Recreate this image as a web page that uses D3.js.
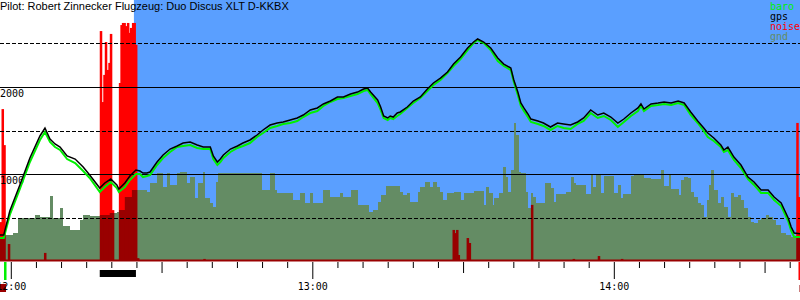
<!DOCTYPE html>
<html><head><meta charset="utf-8">
<script src="https://cdn.jsdelivr.net/npm/d3@7"></script>
<style>html,body{margin:0;padding:0;background:#fff;overflow:hidden}svg{display:block}</style>
</head><body>
<svg id="c" width="800" height="300"></svg>
<script>
// ---------- data ----------
const title = "Pilot: Robert Zinnecker Flugzeug: Duo Discus XLT D-KKBX";
const legendLabels = ["baro", "gps", "noise", "gnd"];
const altTicks = [500, 1000, 1500, 2000, 2500];
const altLabels = [1000, 2000];
const hourLabels = {0: "12:00", 60: "13:00", 120: "14:00"};   // minutes after 12:00

// sample times (minutes after 12:00)
const sampleTime = [-2.2,-1.4,-0.2,1.8,3.8,5.8,6.8,7.8,8.8,9.8,
  11.2,12.8,14.4,15.7,17.7,18.7,19.9,21.1,21.5,22.7,
  23.7,24.9,25.7,26.3,27.1,27.7,29.1,30.3,31.7,33.1,
  34.3,35.7,37.1,38.3,39.7,40.3,41.1,41.7,42.3,43.7,
  45.1,46.2,47.6,49.0,50.2,51.6,53.0,54.2,55.6,57.0,
  58.2,59.6,61.0,62.2,63.6,65.0,66.2,67.6,69.0,70.2,
  71.0,71.6,73.0,73.6,74.2,75.0,75.5,76.1,76.9,77.5,
  78.9,80.1,81.5,82.9,84.1,85.5,86.9,88.1,89.5,90.9,
  92.1,92.9,94.1,95.5,96.9,98.1,99.5,100.1,100.9,101.5,
  102.1,102.9,103.5,104.9,106.0,107.4,108.8,110.0,111.4,112.8,
  114.0,115.4,116.8,118.0,119.4,120.8,122.0,123.4,124.8,125.4,
  126.0,127.4,128.8,130.0,131.4,132.8,134.0,135.3,136.7,137.9,
  138.7,139.9,141.3,141.9,142.7,143.9,145.3,146.7,147.9,149.3,
  150.7,151.9,153.3,154.7,155.3,155.9,157.3];
const gpsAlt = [299,299,575,874,1184,1437,1529,1402,1345,1310,
  1207,1172,1080,988,839,897,942,874,828,897,
  977,1046,1034,1011,1011,1023,1138,1218,1287,1322,
  1356,1368,1333,1310,1310,1207,1138,1172,1218,1287,
  1322,1356,1391,1448,1506,1563,1586,1598,1621,1644,
  1678,1736,1759,1805,1839,1885,1885,1919,1942,1977,
  1988,1942,1851,1770,1667,1644,1667,1655,1701,1713,
  1770,1839,1885,1977,2046,2103,2172,2264,2345,2448,
  2517,2552,2517,2448,2333,2264,2218,2080,1942,1816,
  1759,1690,1632,1609,1586,1540,1586,1575,1563,1598,
  1644,1736,1678,1701,1655,1586,1632,1701,1759,1805,
  1747,1805,1816,1828,1816,1839,1816,1713,1609,1529,
  1471,1414,1333,1276,1310,1195,1103,965,908,816,
  816,736,667,494,391,322,310];
const baroAlt = [264,264,529,828,1138,1391,1483,1368,1310,1276,
  1172,1126,1034,954,793,851,908,839,793,851,
  931,1000,1000,965,977,988,1103,1184,1253,1310,
  1322,1333,1299,1287,1287,1172,1103,1138,1184,1253,
  1299,1322,1356,1425,1471,1529,1552,1575,1586,1609,
  1655,1701,1724,1782,1828,1862,1874,1897,1919,1954,
  1966,1919,1816,1736,1644,1621,1644,1632,1667,1690,
  1759,1816,1874,1954,2023,2080,2161,2241,2322,2425,
  2506,2540,2506,2425,2299,2241,2195,2057,1908,1782,
  1724,1655,1598,1575,1552,1506,1552,1529,1517,1575,
  1609,1701,1644,1667,1621,1540,1598,1667,1724,1782,
  1724,1782,1793,1805,1793,1816,1793,1678,1586,1494,
  1425,1379,1310,1253,1276,1161,1069,942,874,782,
  782,701,632,460,345,276,276];

// ground elevation (step series)
const gndT = [-2.2,-1.4,0.4,1.4,4.8,5.8,7.8,8.4,9.8,10.4,
  11.8,13.8,14.4,15.7,17.7,19.7,21.1,21.5,22.7,24.1,
  27.1,27.7,29.1,30.3,31.1,31.7,33.1,33.7,35.1,35.7,
  36.7,37.3,38.3,38.7,39.7,40.3,40.9,41.3,50.0,51.6,
  52.6,53.0,56.2,57.6,58.6,59.6,60.2,62.2,63.6,65.6,
  66.2,67.6,69.0,71.2,72.0,73.0,73.6,74.6,77.5,78.1,
  78.9,79.5,81.1,81.5,82.5,83.5,84.1,84.9,85.5,86.1,
  86.9,88.1,89.5,90.1,92.1,94.1,94.5,95.1,95.9,96.1,
  97.1,97.9,98.5,98.9,99.5,100.1,100.5,101.1,101.5,102.5,
  102.9,103.5,103.9,104.5,106.4,107.4,108.0,108.4,110.4,111.4,
  112.0,112.4,114.4,115.4,115.8,116.4,117.4,118.0,120.0,120.8,
  121.4,121.8,123.4,124.0,126.0,127.4,129.4,130.0,131.0,131.4,
  133.0,133.4,134.0,134.8,135.3,135.9,136.7,137.3,137.9,138.5,
  138.9,139.3,139.9,140.7,141.3,141.9,142.7,143.3,143.9,144.7,
  145.3,145.9,146.7,147.3,147.9,148.7,149.3,150.3,150.9,151.7,
  152.3,153.3,154.3,155.3,156.3,157.3];
const gndAlt = [264,299,322,494,529,506,747,494,609,402,
  356,471,529,517,529,552,563,586,736,816,
  793,897,1011,851,1011,874,1011,1023,897,965,
  724,897,1023,724,667,621,908,1011,816,1011,
  816,782,701,782,667,782,667,816,736,782,
  736,816,644,563,586,678,759,862,793,759,
  782,678,793,851,908,851,908,851,793,701,
  782,793,701,782,805,644,851,782,644,724,
  782,1080,965,793,1046,1586,1448,1023,1011,793,
  609,782,736,667,897,839,678,770,793,965,
  897,874,770,988,851,988,782,977,782,874,
  724,770,977,988,954,942,1046,862,988,828,
  759,931,965,954,793,736,667,644,506,701,
  874,1046,816,667,736,621,506,782,736,759,
  701,609,506,448,437,471,494,529,506,471,
  414,322,299,276,264,264];

// engine noise level (0..1000)
const noiseT = [-2.2,-1.85,-1.5,-0.6,6.6,17.7,18.1,18.4,18.7,19.1,
  19.4,19.7,20.1,21.5,21.8,22.1,22.4,22.7,23.1,23.4,
  23.7,24.1,24.4,24.7,25.1,38.3,87.9,88.2,88.6,88.9,
  90.7,91.1,103.5,111.8,116.8,121.4,156.3,156.6,156.9,157.2];
const noiseVal = [149,582,444,65,31,881,609,713,839,732,
  759,870,195,682,904,912,912,900,912,874,
  893,912,912,828,11,8,119,107,119,23,
  88,69,215,8,19,8,529,245,80,61];

const taskWindow = [24.5, 157.05];   // scored part of flight (blue)
const engineRun = [17.7, 24.9];      // engine run (black bar)
const takeoffTime = -1.35, landingTime = 156.75;

// ---------- drawing ----------
const W = 800, H = 300;
const C = {blue:"#5a9fff", gnd:"#648c64", red:"#ff0000", dark:"#990000", baro:"#00f000", gps:"#000000"};
const svg = d3.select("#c");
const x = d3.scaleLinear().domain([-2.15, 157.05]).range([0, W]);
const y = d3.scaleLinear().domain([0, 3000]).range([261, 0]);
const yN = d3.scaleLinear().domain([0, 1000]).range([261, 0]);
const mono = "'DejaVu Sans Mono', monospace";

svg.append("rect").attr("width", W).attr("height", H).attr("fill", "#fff");
svg.append("rect").attr("x", x(taskWindow[0])).attr("y", 0)
  .attr("width", x(taskWindow[1]) - x(taskWindow[0])).attr("height", y(0)).attr("fill", C.blue);

const noise = noiseT.map((t, i) => ({t, v: noiseVal[i]}));
const barW = d => Math.max(1, x(d.t + 0.5) - x(d.t));
function noiseBars(g, fill) {
  g.selectAll("rect").data(noise).join("rect")
    .attr("x", d => x(d.t)).attr("width", barW)
    .attr("y", d => yN(d.v)).attr("height", d => yN(0) - yN(d.v))
    .attr("fill", fill);
}
noiseBars(svg.append("g"), C.red);

const gnd = gndT.map((t, i) => ({t, v: gndAlt[i]}));
const gndArea = d3.area().curve(d3.curveStepAfter)
  .x(d => x(d.t)).y0(y(0)).y1(d => y(d.v));
svg.append("clipPath").attr("id", "gclip").append("path").attr("d", gndArea(gnd));
svg.append("path").attr("d", gndArea(gnd)).attr("fill", C.gnd).attr("shape-rendering", "crispEdges");
noiseBars(svg.append("g").attr("clip-path", "url(#gclip)"), C.dark);
svg.append("rect").attr("x", 0).attr("y", 259.5).attr("width", W).attr("height", 2).attr("fill", C.dark);

// grid
svg.append("g").selectAll("line").data(altTicks).join("line")
  .attr("x1", 0).attr("x2", W)
  .attr("y1", d => Math.round(y(d)) + 0.5).attr("y2", d => Math.round(y(d)) + 0.5)
  .attr("stroke", "#000").attr("stroke-width", 1)
  .attr("stroke-dasharray", d => d % 1000 === 0 ? null : "4,2");
svg.append("g").selectAll("text").data(altLabels).join("text")
  .attr("x", 0).attr("y", d => Math.round(y(d)) + 10)
  .attr("font-family", mono).attr("font-size", 10).text(d => d);

// altitude lines
const line = d3.line().x(d => x(d.t)).y(d => y(d.v));
svg.append("path").attr("d", line(sampleTime.map((t, i) => ({t, v: baroAlt[i]}))))
  .attr("fill", "none").attr("stroke", C.baro).attr("stroke-width", 2);
svg.append("path").attr("d", line(sampleTime.map((t, i) => ({t, v: gpsAlt[i]}))))
  .attr("fill", "none").attr("stroke", C.gps).attr("stroke-width", 1.5);

// x axis
const ticks = d3.range(0, 156, 5);
const ax = svg.append("g").attr("transform", "translate(0,262)")
  .call(d3.axisBottom(x).tickValues(ticks).tickSize(6).tickFormat(d => hourLabels[d] || ""));
ax.select(".domain").remove();
ax.selectAll(".tick line").attr("stroke", "#000")
  .attr("y2", d => d % 60 === 0 ? 17 : d % 30 === 0 ? 11 : 6);

// markers below axis
svg.append("rect").attr("x", x(engineRun[0])).attr("y", 270)
  .attr("width", x(engineRun[1]) - x(engineRun[0])).attr("height", 7).attr("fill", "#000");
svg.append("rect").attr("x", 0).attr("y", 284).attr("width", x(takeoffTime) + 2).attr("height", 8).attr("fill", C.dark);
svg.append("rect").attr("x", x(landingTime) + 1).attr("y", 285).attr("width", 3).attr("height", 7).attr("fill", C.dark);
svg.append("rect").attr("x", x(takeoffTime)).attr("y", 262).attr("width", 2.5).attr("height", 18).attr("fill", C.baro);
svg.append("rect").attr("x", x(landingTime)).attr("y", 262).attr("width", 2).attr("height", 18).attr("fill", C.red);

ax.selectAll(".tick text").attr("y", 28).attr("dy", 0)
  .attr("font-family", mono).attr("font-size", 10).attr("fill", "#000");
ax.raise();

// title & legend
svg.append("text").attr("x", 0).attr("y", 10)
  .attr("font-family", "'Liberation Sans', Arial, sans-serif").attr("font-size", 11).text(title);
const legColors = [C.baro, C.gps, C.red, C.gnd];
svg.append("g").selectAll("text").data(legendLabels).join("text")
  .attr("x", 770).attr("y", (d, i) => 10 + i * 10)
  .attr("font-family", mono).attr("font-size", 10)
  .attr("fill", (d, i) => legColors[i]).text(d => d);
</script>
</body></html>
